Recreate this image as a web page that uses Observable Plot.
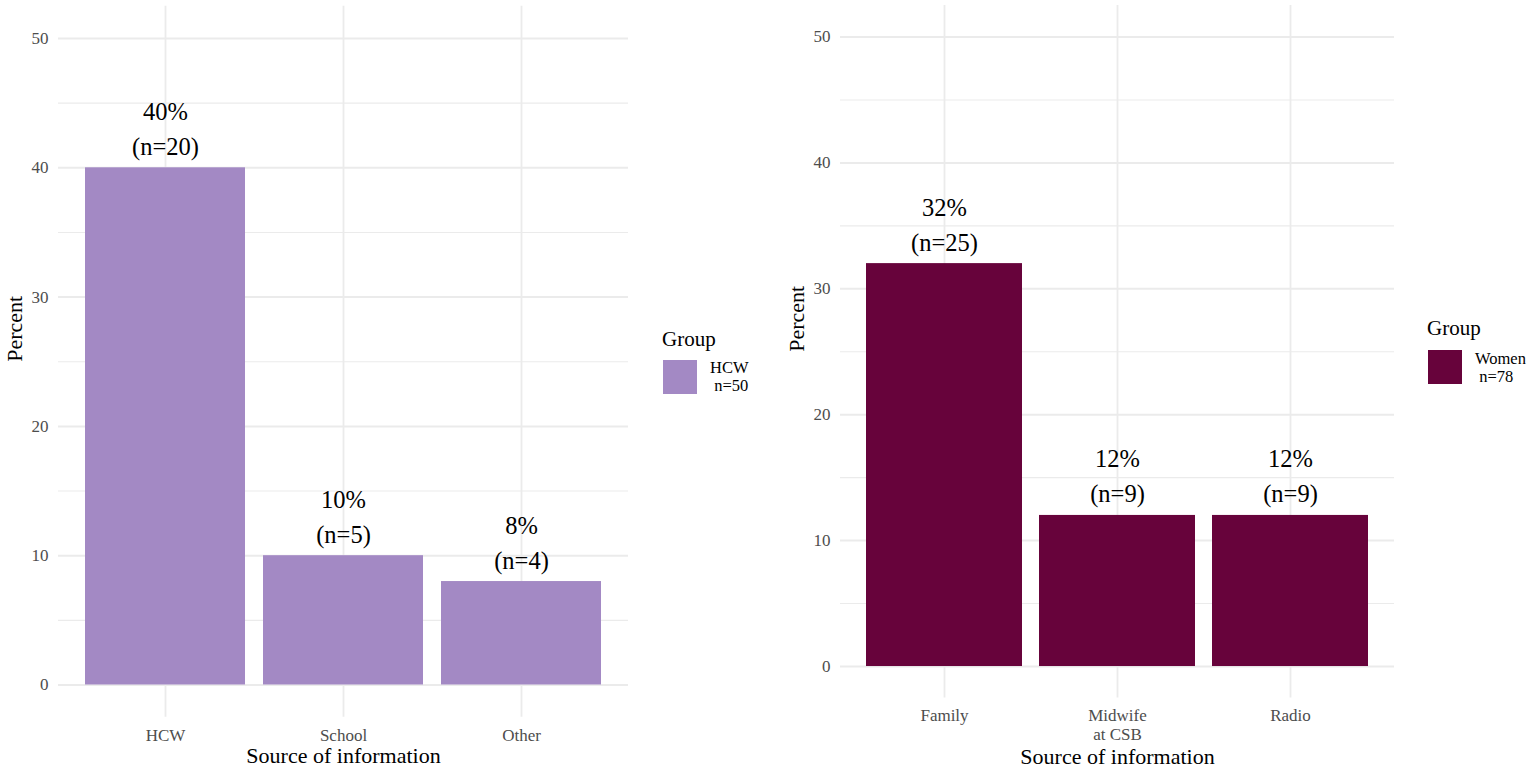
<!DOCTYPE html>
<html><head><meta charset="utf-8">
<script src="https://cdn.jsdelivr.net/npm/d3@7"></script>
<script src="https://cdn.jsdelivr.net/npm/@observablehq/plot@0.6"></script>
<style>
body{margin:0;background:#fff;font-family:"Liberation Serif",serif;}
#wrap{position:relative;width:1535px;height:769px;overflow:hidden;background:#fff}
.panel{position:absolute;top:0}
.leg-title{position:absolute;font-size:21px;line-height:21px;color:#000;white-space:pre}
.leg-sw{position:absolute;width:34px;height:34px}
.leg-lab{position:absolute;font-size:16.5px;line-height:18px;color:#000;white-space:pre}
</style></head><body><div id="wrap"></div>
<script>
// ---- data ----
const hcwSources = ["HCW", "School", "Other"];
const hcwPercent = [40, 10, 8];
const hcwCounts = [20, 5, 4];
const hcwGroup = "HCW";
const hcwGroupN = 50;

const womenSources = ["Family", "Midwife\nat CSB", "Radio"];
const womenPercent = [32, 12, 12];
const womenCounts = [25, 9, 9];
const womenGroup = "Women";
const womenGroupN = 78;

const yTicks = [0, 10, 20, 30, 40, 50];
const yMinorTicks = [5, 15, 25, 35, 45];

const FONT = "Liberation Serif";

function panel({sources, percent, counts, color, width, height, mL, mR, mT, mB, xTitleDy}) {
  const data = sources.map((s, i) => ({source: s, percent: percent[i], n: counts[i]}));
  return Plot.plot({
    width, height,
    marginLeft: mL, marginRight: mR, marginTop: mT, marginBottom: mB,
    style: {fontFamily: FONT, background: "transparent", overflow: "visible"},
    x: {domain: sources, paddingInner: 0.1, paddingOuter: 0.15, label: null},
    y: {domain: [-2.5, 52.5], label: null},
    marks: [
      Plot.ruleY(yMinorTicks, {stroke: "#EBEBEB", strokeWidth: 1.1}),
      Plot.ruleY(yTicks, {stroke: "#EBEBEB", strokeWidth: 2}),
      Plot.gridX({stroke: "#EBEBEB", strokeOpacity: 1, strokeWidth: 1.8}),
      Plot.barY(data, {x: "source", y: "percent", fill: color}),
      Plot.text(data, {x: "source", y: "percent", text: d => `${d.percent}%`, lineAnchor: "bottom", dy: -48, fontSize: 24.5, fill: "#000"}),
      Plot.text(data, {x: "source", y: "percent", text: d => `(n=${d.n})`, lineAnchor: "bottom", dy: -13, fontSize: 24.5, fill: "#000"}),
      Plot.axisY({ticks: yTicks, tickSize: 0, tickPadding: 10, fontSize: 17, color: "#4D4D4D", label: null}),
      Plot.axisX({tickSize: 0, tickPadding: 10, fontSize: 17, color: "#4D4D4D", label: null, lineHeight: 1.1}),
      Plot.text(["Percent"], {frameAnchor: "left", rotate: -90, dx: -43.5, fontSize: 22, fill: "#000"}),
      Plot.text(["Source of information"], {frameAnchor: "bottom", lineAnchor: "bottom", dy: xTitleDy, fontSize: 22, fill: "#000"})
    ]
  });
}

const wrap = document.getElementById("wrap");

const left = panel({
  sources: hcwSources, percent: hcwPercent, counts: hcwCounts, color: "#A389C4",
  width: 660, height: 769, mL: 58, mR: 32, mT: 5.7, mB: 52.2, xTitleDy: 46
});
left.classList.add("panel"); left.style.left = "0px";
wrap.appendChild(left);

const right = panel({
  sources: womenSources, percent: womenPercent, counts: womenCounts, color: "#67033B",
  width: 755, height: 769, mL: 60, mR: 141, mT: 5, mB: 71.5, xTitleDy: 65.5
});
right.classList.add("panel"); right.style.left = "780px";
wrap.appendChild(right);

function legend({x, titleTop, swTop, labX, labTop, color, name, n}) {
  const t = document.createElement("div");
  t.className = "leg-title"; t.textContent = "Group";
  t.style.left = x + "px"; t.style.top = titleTop + "px";
  const s = document.createElement("div");
  s.className = "leg-sw"; s.style.background = color;
  s.style.left = (x + 1) + "px"; s.style.top = swTop + "px";
  const l = document.createElement("div");
  l.className = "leg-lab"; l.textContent = `${name}\n n=${n}`;
  l.style.left = labX + "px"; l.style.top = labTop + "px";
  wrap.append(t, s, l);
}
legend({x: 662, titleTop: 329.4, swTop: 360, labX: 710, labTop: 359.4, color: "#A389C4", name: hcwGroup, n: hcwGroupN});
legend({x: 1427, titleTop: 318.4, swTop: 350, labX: 1475, labTop: 350.4, color: "#67033B", name: womenGroup, n: womenGroupN});
</script>
</body></html>
